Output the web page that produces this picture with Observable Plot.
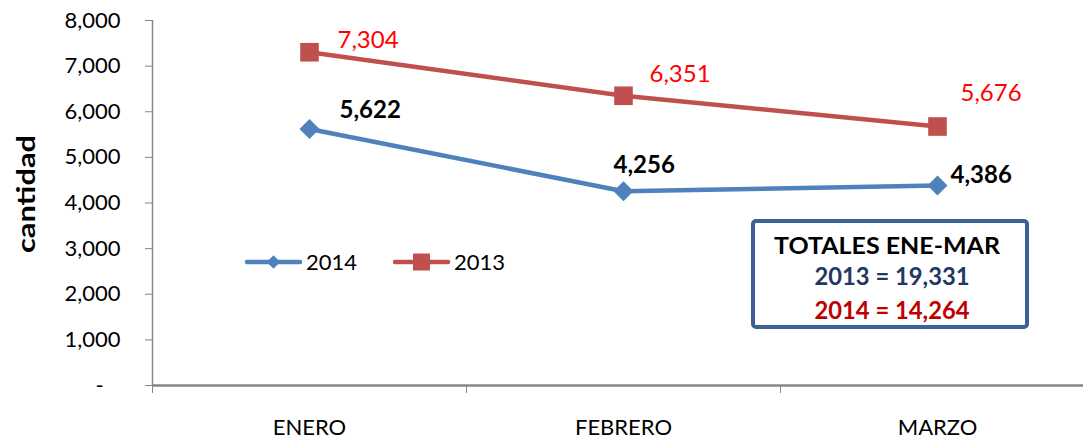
<!DOCTYPE html>
<html>
<head>
<meta charset="utf-8">
<script src="https://cdn.jsdelivr.net/npm/d3@7"></script>
<script src="https://cdn.jsdelivr.net/npm/@observablehq/plot@0.6"></script>
<style>
  html, body { margin: 0; padding: 0; background: #fff; }
  #chart { width: 1083px; height: 440px; }
</style>
</head>
<body>
<div id="chart"></div>
<script>
// ---- data ----
const months = ["ENERO", "FEBRERO", "MARZO"];
const values2014 = [5622, 4256, 4386];
const values2013 = [7304, 6351, 5676];
const yTicks = [0, 1000, 2000, 3000, 4000, 5000, 6000, 7000, 8000];
const yLabel = "cantidad";
const totalsTitle = "TOTALES ENE-MAR";

// ---- build tables ----
const rows2014 = months.map((m, i) => ({month: m, value: values2014[i], series: "2014"}));
const rows2013 = months.map((m, i) => ({month: m, value: values2013[i], series: "2013"}));
const total2013 = d3.sum(values2013);
const total2014 = d3.sum(values2014);

const FONT = "Lato, 'Open Sans', sans-serif";
const BLUE = "#4F81BD", RED = "#C0504D";
const fmt = d3.format(",");

// per-point label nudges (layout only)
const nudge2013 = [[28, -12], [26, -21], [23, -33]];
const nudge2014 = [[30, -19], [-10, -26], [13, -10]];

const labelMarks = [];
rows2013.forEach((r, i) => labelMarks.push(Plot.text([r], {
  x: "month", y: "value", text: d => fmt(d.value), textAnchor: "start",
  dx: nudge2013[i][0], dy: nudge2013[i][1], fill: "#FF0000", fontSize: 24
})));
rows2014.forEach((r, i) => labelMarks.push(Plot.text([r], {
  x: "month", y: "value", text: d => fmt(d.value), textAnchor: "start",
  dx: nudge2014[i][0], dy: nudge2014[i][1], fill: "#000", fontSize: 24, fontWeight: "bold"
})));

const chart = Plot.plot({
  width: 1083,
  height: 440,
  marginLeft: 153,
  marginRight: 0,
  marginTop: 20,
  marginBottom: 55,
  style: {fontFamily: FONT, background: "#fff", color: "#000"},
  x: {type: "point", domain: months, range: [152, 1094], padding: 0.5, axis: null, label: null},
  y: {domain: [0, 8000], axis: null, label: null},
  marks: [
    // y axis ticks and labels
    Plot.axisY({ticks: yTicks, tickSize: 8, tickPadding: 25, fontSize: 22, stroke: "#868686", label: null,
      tickFormat: d => d === 0 ? "-\u00a0\u00a0\u00a0" : fmt(d)}),
    // y axis line
    Plot.ruleX([months[0]], {dx: -157, stroke: "#868686", strokeWidth: 1.5}),
    // x axis line
    Plot.ruleY([0], {stroke: "#868686", strokeWidth: 2.5}),
    // x tick marks at category boundaries
    Plot.axisX({ticks: months, tickSize: 8, tickFormat: null, dx: -157, stroke: "#868686", label: null}),
    // x labels
    Plot.axisX({ticks: months, tickSize: 0, tickPadding: 34, fontSize: 22, label: null}),
    // lines
    Plot.line(rows2014, {x: "month", y: "value", stroke: BLUE, strokeWidth: 4.5}),
    Plot.line(rows2013, {x: "month", y: "value", stroke: RED, strokeWidth: 4.5}),
    Plot.dot(rows2014, {x: "month", y: "value", symbol: "diamond2", r: 9, fill: BLUE, stroke: null}),
    Plot.dot(rows2013, {x: "month", y: "value", symbol: "square", r: 10.5, fill: RED, stroke: null}),
    ...labelMarks
  ]
});
document.getElementById("chart").appendChild(chart);

// ---- extra annotations: y title, legend, totals box ----
const svg = d3.select(chart);
svg.append("text")
  .attr("transform", "translate(35,194) rotate(-90)")
  .attr("text-anchor", "middle")
  .attr("font-family", FONT).attr("font-weight", "bold").attr("font-size", 25)
  .attr("textLength", 118).attr("lengthAdjust", "spacingAndGlyphs")
  .attr("fill", "#000")
  .text(yLabel);

const legend = svg.append("g").attr("font-family", FONT).attr("font-size", 22).attr("text-anchor", "start");
const legItems = [
  {label: "2014", color: BLUE, x0: 247, symbol: d3.symbolDiamond2, size: 118},
  {label: "2013", color: RED, x0: 395, symbol: d3.symbolSquare, size: 289}
];
legItems.forEach(it => {
  const g = legend.append("g").attr("transform", `translate(${it.x0},262)`);
  g.append("line").attr("x1", 0).attr("x2", 53).attr("stroke", it.color)
    .attr("stroke-width", 4.5).attr("stroke-linecap", "round");
  g.append("path").attr("d", d3.symbol(it.symbol, it.size)()).attr("transform", "translate(26.5,0)")
    .attr("fill", it.color);
  g.append("text").attr("x", 59).attr("dy", "0.35em").attr("fill", "#000").text(it.label);
});

const box = svg.append("g").attr("font-family", FONT).attr("font-weight", "bold")
  .attr("text-anchor", "middle");
box.append("rect").attr("x", 753).attr("y", 221).attr("width", 274).attr("height", 106)
  .attr("rx", 3).attr("fill", "#fff").attr("stroke", "#3D6194").attr("stroke-width", 4);
box.append("text").attr("x", 887).attr("y", 246).attr("dy", "0.36em").attr("font-size", 22)
  .attr("textLength", 226).attr("lengthAdjust", "spacingAndGlyphs")
  .attr("fill", "#000").text(totalsTitle);
box.append("text").attr("x", 892).attr("y", 276).attr("dy", "0.36em").attr("font-size", 24)
  .attr("textLength", 155).attr("lengthAdjust", "spacingAndGlyphs").attr("fill", "#1F3864")
  .text(`2013 = ${fmt(total2013)}`);
box.append("text").attr("x", 892).attr("y", 310).attr("dy", "0.36em").attr("font-size", 24)
  .attr("textLength", 155).attr("lengthAdjust", "spacingAndGlyphs").attr("fill", "#C00000")
  .text(`2014 = ${fmt(total2014)}`);
</script>
</body>
</html>
